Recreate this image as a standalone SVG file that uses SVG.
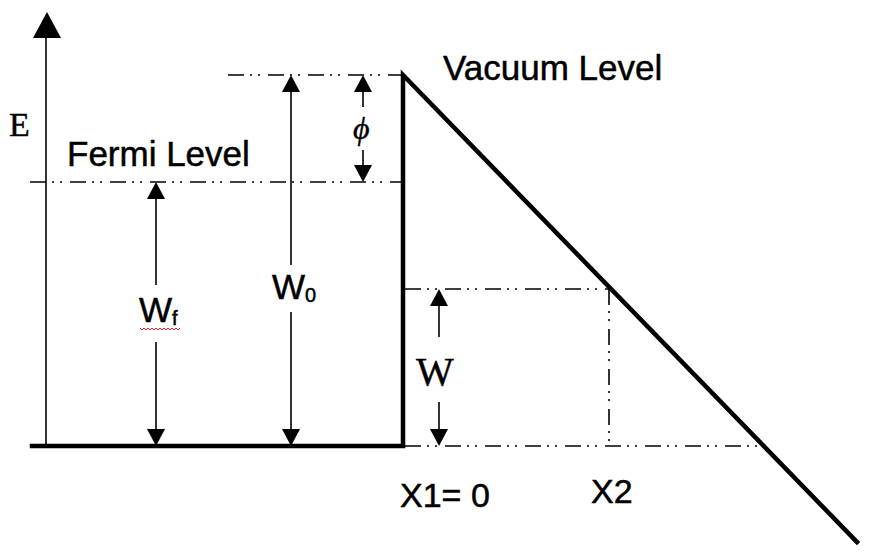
<svg xmlns="http://www.w3.org/2000/svg" width="869" height="554" viewBox="0 0 869 554">
<style>
.thick{stroke:#000;stroke-width:4.5;fill:none;stroke-linecap:square}
.thin{stroke:#000;stroke-width:1.6;fill:none}
.dd{stroke:#000;stroke-width:1.6;fill:none;stroke-dasharray:16 6 2 6 2 8}
.ah{fill:#000}
.sans{font-family:"Liberation Sans",Arial,sans-serif;fill:#000;stroke:#000;stroke-width:0.5}
.serif{font-family:"Liberation Serif","Times New Roman",serif;fill:#000;stroke:#000;stroke-width:0.4}
</style>
<rect width="869" height="554" fill="#fff"/>
<g id="connectors">
  <line class="dd" x1="228" y1="75" x2="401" y2="75"/>
  <line class="dd" x1="30" y1="182" x2="401" y2="182"/>
  <line class="dd" x1="405" y1="289" x2="612" y2="289"/>
  <line class="dd" x1="609" y1="289" x2="609" y2="446"/>
  <line class="dd" x1="405" y1="446" x2="760" y2="446"/>
  <line class="thin" x1="46" y1="446" x2="46" y2="36"/>
  <polygon class="ah" points="47,12 33,38 61,38"/>
  <line class="thin" x1="156" y1="196" x2="156" y2="285"/>
  <line class="thin" x1="156" y1="342" x2="156" y2="432"/>
  <polygon class="ah" points="156,182 147,199 165,199"/>
  <polygon class="ah" points="156,446 147,429 165,429"/>
  <line class="thin" x1="291" y1="89" x2="291" y2="265"/>
  <line class="thin" x1="291" y1="312" x2="291" y2="432"/>
  <polygon class="ah" points="291,75 282,92 300,92"/>
  <polygon class="ah" points="291,446 282,429 300,429"/>
  <line class="thin" x1="363" y1="89" x2="363" y2="107"/>
  <line class="thin" x1="363" y1="150" x2="363" y2="168"/>
  <polygon class="ah" points="363,75 354,92 372,92"/>
  <polygon class="ah" points="363,182 354,165 372,165"/>
  <line class="thin" x1="439" y1="303" x2="439" y2="337"/>
  <line class="thin" x1="439" y1="402" x2="439" y2="432"/>
  <polygon class="ah" points="439,289 430,306 448,306"/>
  <polygon class="ah" points="439,446 430,429 448,429"/>
</g>
<g id="potential">
  <polyline class="thick" points="32,446 403,446 403,75 857,542"/>
</g>
<g id="labels">
  <text class="serif" x="9" y="136" font-size="34">E</text>
  <text class="sans" x="67" y="166" font-size="35">Fermi Level</text>
  <text class="sans" x="443" y="80" font-size="35">Vacuum Level</text>
  <text class="serif" x="353" y="139" font-size="32" font-style="italic">ϕ</text>
  <text class="sans" x="139" y="322" font-size="35">W<tspan font-size="20" dy="3">f</tspan></text>
  <polyline fill="none" stroke="#e02020" stroke-width="1" points="140,328 142,330 144,328 146,330 148,328 150,330 152,328 154,330 156,328 158,330 160,328 162,330 164,328 166,330 168,328 170,330 172,328 174,330 176,328 178,330 180,328"/>
  <text class="sans" x="272" y="299" font-size="35">W<tspan font-size="20" dy="3">0</tspan></text>
  <text class="serif" x="416" y="385" font-size="40">W</text>
  <text class="sans" x="400" y="507" font-size="34">X1= 0</text>
  <text class="sans" x="591" y="503" font-size="34">X2</text>
</g>
</svg>
